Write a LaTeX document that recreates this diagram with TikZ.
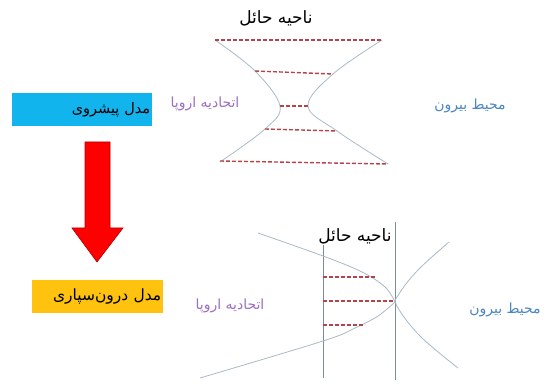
\documentclass[tikz,border=0pt]{standalone}
\usepackage{fontspec}
\newfontfamily\farsi[Script=Arabic]{DejaVu Sans}
\TeXXeTstate=1
\usetikzlibrary{calc}
\usetikzlibrary{positioning}
\definecolor{edgegray}{HTML}{A9B9C6}
\definecolor{wallgray}{HTML}{7F8C9A}
\definecolor{dashred}{HTML}{B5444A}
\definecolor{eupurple}{HTML}{9C6FC4}
\definecolor{outblue}{HTML}{4A86C0}
\definecolor{modelblue}{HTML}{12B4EE}
\definecolor{modelorange}{HTML}{FFC20E}
\tikzset{
  fa/.style={font=\farsi\fontsize{14}{15}\selectfont, inner sep=1pt},
  title/.style={font=\farsi\fontsize{17}{18}\selectfont, inner sep=1pt},
  buffer/.style={dashed, dash pattern=on 4pt off 2pt, dashred, line width=1.4pt},
  edge/.style={edgegray, line width=0.8pt},
  wall/.style={wallgray, line width=0.7pt},
  modelbox/.style={minimum height=33pt, inner sep=2pt, align=right}
}
\begin{document}
\begin{tikzpicture}[x=1pt,y=-1pt]
  \useasboundingbox (0,0) rectangle (547,385);

  % upper picture: progress model
  \node[title] (toptitle) at (276,18) {\beginR ناحیه حائل\endR};
  \draw[edge] plot[smooth, tension=0.6] coordinates {(215,40) (255,71) (280,106) (265,129) (220,162)};
  \draw[edge] plot[smooth, tension=0.6] coordinates {(382,40) (333,74) (308,106) (337,131) (388,164)};
  \draw[buffer] (215,40) -- (382,40);
  \draw[buffer] (255,71) -- (333,74);
  \draw[buffer] (280,106) -- (308,106);
  \draw[buffer] (265,129) -- (337,131);
  \draw[buffer] (220,161) -- (388,164);
  \node[fa, text=eupurple] (eutop) at (205,104) {\beginR اتحادیه اروپا\endR};
  \node[fa, text=outblue] (outtop) at (470,106) {\beginR محیط بیرون\endR};

  % model boxes
  \node[modelbox, fill=modelblue, text width=136pt, font=\farsi\fontsize{14.5}{15}\selectfont, anchor=north west] (progress) at (12,93) {\beginR مدل پیشروی\endR};
  \node[modelbox, fill=modelorange, text width=127pt, font=\farsi\fontsize{15.5}{16}\selectfont, anchor=north west] (insource) at (32,280) {\beginR مدل درون^^^^200cسپاری\endR};

  % arrow
  \draw[fill=red, draw=red!70!black, line width=0.6pt] (85,142) -- (110,142) -- (110,228) -- (123,228) -- (97,262) -- (72,228) -- (85,228) -- cycle;

  % lower picture: insourcing model
  \draw[wall] (323,245) -- (323,378);
  \draw[wall] (395,222) -- (395,380);
  \node[title] (bottitle) at (355,236) {\beginR ناحیه حائل\endR};
  \draw[edge] plot[smooth, tension=0.6] coordinates {(258,233) (323,256) (362,272) (385,287) (395,302)};
  \draw[edge] plot[smooth, tension=0.6] coordinates {(395,302) (378,316) (355,328) (323,341) (200,378)};
  \draw[edge] plot[smooth, tension=0.6] coordinates {(449,242) (418,270) (399,294) (397,306) (420,336) (458,368)};
  \draw[buffer] (323,277) -- (375,277);
  \draw[buffer] (323,301) -- (395,301);
  \draw[buffer] (323,325) -- (365,325);
  \node[fa, text=eupurple] (eubot) at (230,306) {\beginR اتحادیه اروپا\endR};
  \node[fa, text=outblue] (outbot) at (505,310) {\beginR محیط بیرون\endR};
\end{tikzpicture}
\end{document}
